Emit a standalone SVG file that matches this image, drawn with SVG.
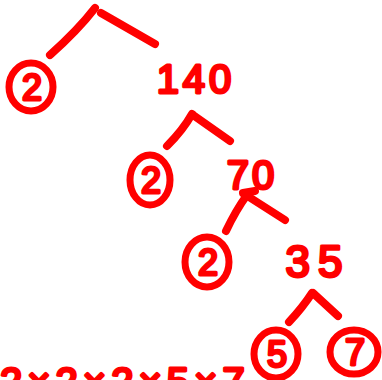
<svg xmlns="http://www.w3.org/2000/svg" width="382" height="380" viewBox="0 0 382 380">
<style>
.ln{fill:none;stroke:#ff0000;stroke-width:8;stroke-linecap:round;stroke-linejoin:round}
.ring{fill:none;stroke:#ff0000;stroke-width:7}
.t{font-family:"Liberation Sans",Arial,sans-serif;fill:#ff0000;stroke:#ff0000;stroke-width:3;stroke-linejoin:round;text-anchor:middle}
.big{font-size:40px}
.dig{font-size:36px}
</style>
<rect width="382" height="380" fill="#ffffff"/>
<g id="connectors">
<path class="ln" d="M50,55 Q78,30 95,8"/>
<path class="ln" d="M101,13 L155,44"/>
<path class="ln" d="M167,146 Q183,130 192,114"/>
<path class="ln" d="M193,115 L230,141"/>
<path class="ln" d="M226,231 Q236,210 247,195"/>
<path class="ln" d="M243,193 L255,191"/>
<path class="ln" d="M249,197 L285,220"/>
<path class="ln" d="M289,322 Q303,307 312,293"/>
<path class="ln" d="M313,293 L338,316"/>
</g>
<g id="n-2a"><ellipse class="ring" cx="31" cy="87" rx="22" ry="24"/><text class="t dig" x="32" y="100">2</text></g>
<g id="n-140"><text class="t big" x="196" y="93" letter-spacing="4">140</text></g>
<g id="n-2b"><ellipse class="ring" cx="150" cy="180" rx="20" ry="25"/><text class="t dig" x="151" y="193">2</text></g>
<g id="n-70"><text class="t big" x="252" y="189" letter-spacing="3">70</text></g>
<g id="n-2c"><ellipse class="ring" cx="207" cy="262" rx="22" ry="25"/><text class="t dig" x="208" y="275">2</text></g>
<g id="n-35"><text class="t" x="318" y="277" font-size="44" letter-spacing="8">35</text></g>
<g id="n-5"><ellipse class="ring" cx="276" cy="354" rx="22" ry="24"/><text class="t dig" x="277" y="367">5</text></g>
<g id="n-7"><ellipse class="ring" cx="354" cy="352" rx="24" ry="22"/><text class="t dig" x="355" y="365">7</text></g>
<text class="t big" x="0" y="396" letter-spacing="5" style="text-anchor:start">2×2×2×5×7</text>
</svg>
